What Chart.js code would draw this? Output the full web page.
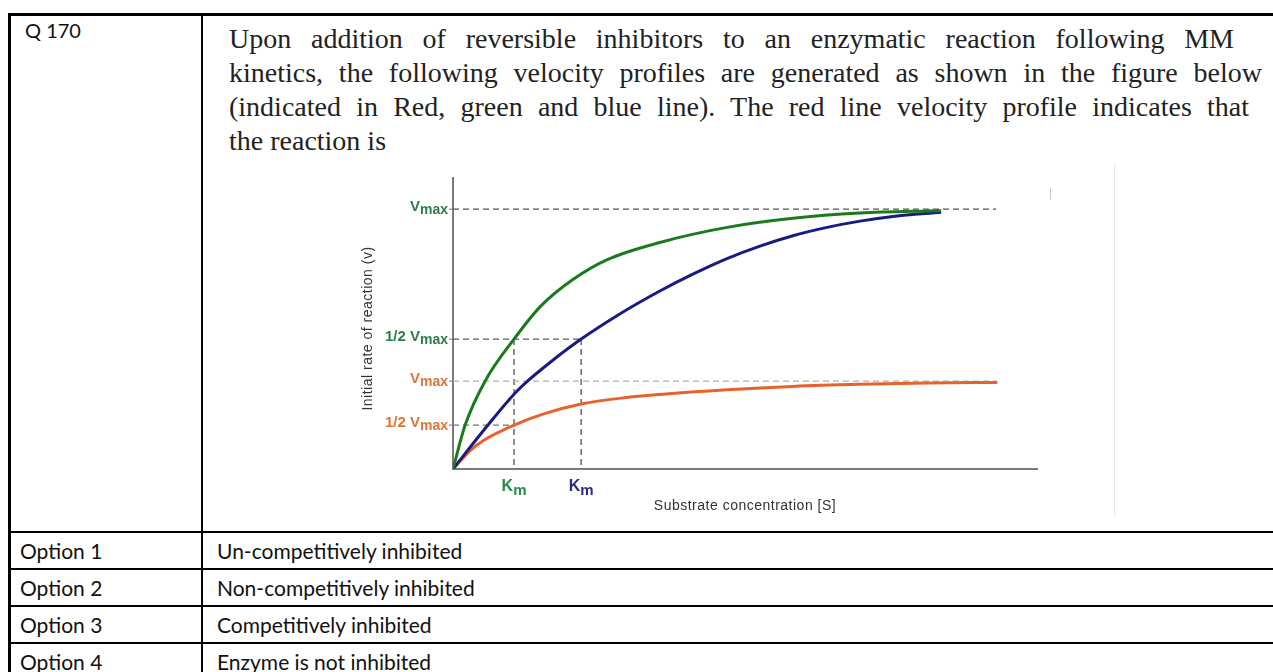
<!DOCTYPE html>
<html lang="en">
<head>
    <meta charset="UTF-8">
    <title>Q 170 - Michaelis-Menten inhibition</title>
    <style>
        body { margin: 0; background: #fff; width: 1273px; height: 672px; overflow: hidden; position: relative; }
        .ln { position: absolute; background: #000; }
        .cal { position: absolute; font-family: Lato, "Open Sans", sans-serif; font-size: 21px; color: #111; white-space: nowrap; line-height: 24px; }
        .q { position: absolute; left: 229px; font-family: "Liberation Serif", "Times New Roman", serif; font-size: 28px; color: #222; white-space: nowrap; line-height: 34px; text-align: justify; text-align-last: justify; }
        #chartBox { position: absolute; left: 330px; top: 160px; }
    </style>
</head>
<body>
    <!-- table borders -->
    <div class="ln" style="left:8px; top:13px; width:1265px; height:3px;"></div>
    <div class="ln" style="left:8px; top:13px; width:3px; height:660px;"></div>
    <div class="ln" style="left:201px; top:13px; width:2px; height:660px;"></div>
    <div class="ln" style="left:8px; top:531px; width:1265px; height:2px;"></div>
    <div class="ln" style="left:8px; top:568px; width:1265px; height:2px;"></div>
    <div class="ln" style="left:8px; top:605px; width:1265px; height:2px;"></div>
    <div class="ln" style="left:8px; top:642px; width:1265px; height:2px;"></div>

    <div class="cal" style="left:25px; top:18px; font-size:20px;">Q 170</div>

    <div class="q" style="top:22px; width:1005px;">Upon addition of reversible inhibitors to an enzymatic reaction following MM</div>
    <div class="q" style="top:56px; width:1033px;">kinetics, the following velocity profiles are generated as shown in the figure below</div>
    <div class="q" style="top:90px; width:1020px;">(indicated in Red, green and blue line). The red line velocity profile indicates that</div>
    <div class="q" style="top:124px; text-align:left; text-align-last:left;">the reaction is</div>

    <!-- faint marks of the pasted figure -->
    <div style="position:absolute; left:1114px; top:165px; width:1px; height:350px; background:#e4e4e4;"></div>
    <div style="position:absolute; left:1050px; top:188px; width:1px; height:12px; background:#c8c8c8;"></div>

    <div id="chartBox"><canvas id="mm" width="740" height="370"></canvas></div>

    <div class="cal" style="left:20px; top:539px;">Option 1</div>
    <div class="cal" style="left:217px; top:539px;">Un-competitively inhibited</div>
    <div class="cal" style="left:20px; top:576px;">Option 2</div>
    <div class="cal" style="left:217px; top:576px;">Non-competitively inhibited</div>
    <div class="cal" style="left:20px; top:613px;">Option 3</div>
    <div class="cal" style="left:217px; top:613px;">Competitively inhibited</div>
    <div class="cal" style="left:20px; top:650px;">Option 4</div>
    <div class="cal" style="left:217px; top:650px;">Enzyme is not inhibited</div>

    <script src="https://cdn.jsdelivr.net/npm/chart.js"></script>
    <script>
        // substrate concentration [S] (Km of green curve = 1) and initial rate v (green Vmax = 100)
        const sGreen = [0, 0.2, 0.53, 1, 1.43, 1.97, 2.52, 3.39, 4.49, 5.57, 6.67, 7.77, 8.0];
        const vGreen = [0, 17, 34, 50, 62.5, 73, 80.5, 87.2, 93, 96.5, 98.5, 99.3, 99.4];

        const sBlue = [0, 0.5, 1, 1.23, 1.6, 2.1, 2.7, 3.39, 3.93, 4.49, 5.03, 5.57, 6.13, 6.67, 7.21, 8.0];
        const vBlue = [0, 14.8, 28.8, 34, 41.2, 50, 59.2, 68.5, 75, 81, 85.8, 89.8, 93, 95.4, 97.2, 98.8];

        const sRed = [0, 0.3, 0.5, 1, 1.5, 2.1, 2.8, 3.39, 4.49, 5.57, 6.67, 7.77, 8.92];
        const vRed = [0, 7.5, 11, 16.9, 21.3, 25, 27.4, 28.7, 30.5, 31.8, 32.6, 33.1, 33.3];

        // reference levels
        const vmaxGreen = 100, halfGreen = 50;
        const vmaxRed = 33.8, halfRed = 16.9;
        const kmGreen = 1, kmBlue = 2.1;
        const refEnd = 8.9;
        const xMax = 9.57, yMax = 112;

        // tick labels
        const yTickLabels = [
            { v: vmaxGreen, pre: '', color: '#2b7d45' },
            { v: halfGreen, pre: '1/2 ', color: '#2b7d45' },
            { v: vmaxRed, pre: '', color: '#e07432' },
            { v: halfRed, pre: '1/2 ', color: '#e07432' }
        ];
        const xTickLabels = [
            { s: kmGreen, color: '#2b8a45' },
            { s: kmBlue, color: '#2a2a80' }
        ];

        const pts = (xs, ys) => xs.map((x, i) => ({ x: x, y: ys[i] }));

        function curve(xs, ys, color) {
            return {
                data: pts(xs, ys), borderColor: color, borderWidth: 3,
                pointRadius: 0, cubicInterpolationMode: 'monotone', fill: false, order: 0
            };
        }
        function dashed(xs, ys, color) {
            return {
                data: pts(xs, ys), borderColor: color, borderWidth: 1.3, borderDash: [6, 4],
                pointRadius: 0, tension: 0, fill: false, order: 1
            };
        }

        const labelPlugin = {
            id: 'mmLabels',
            afterDraw(chart) {
                const ctx = chart.ctx;
                const xs = chart.scales.x, ys = chart.scales.y;
                ctx.save();
                ctx.textBaseline = 'alphabetic';
                // y tick labels with subscript
                yTickLabels.forEach(t => {
                    const py = ys.getPixelForValue(t.v);
                    const right = xs.left - 5;
                    ctx.font = 'bold 14px "Liberation Sans", Arial, sans-serif';
                    const wSub = ctx.measureText('max').width;
                    ctx.font = 'bold 15px "Liberation Sans", Arial, sans-serif';
                    const wMain = ctx.measureText(t.pre + 'V').width;
                    ctx.fillStyle = t.color;
                    ctx.fillText(t.pre + 'V', right - wSub - wMain, py + 2);
                    ctx.font = 'bold 14px "Liberation Sans", Arial, sans-serif';
                    ctx.fillText('max', right - wSub, py + 5);
                    ctx.strokeStyle = '#777';
                    ctx.lineWidth = 1;
                    ctx.beginPath();
                    ctx.moveTo(right + 1, py);
                    ctx.lineTo(xs.left, py);
                    ctx.stroke();
                });
                // x tick labels (Km)
                xTickLabels.forEach(t => {
                    const px = xs.getPixelForValue(t.s);
                    ctx.font = 'bold 16px "Liberation Sans", Arial, sans-serif';
                    const wK = ctx.measureText('K').width;
                    ctx.font = 'bold 15px "Liberation Sans", Arial, sans-serif';
                    const wM = ctx.measureText('m').width;
                    const left = px - (wK + wM) / 2;
                    ctx.fillStyle = t.color;
                    ctx.font = 'bold 16px "Liberation Sans", Arial, sans-serif';
                    ctx.fillText('K', left, ys.bottom + 22);
                    ctx.font = 'bold 15px "Liberation Sans", Arial, sans-serif';
                    ctx.fillText('m', left + wK, ys.bottom + 26);
                });
                // axis titles
                ctx.fillStyle = '#333';
                ctx.font = '14px "Liberation Sans", Arial, sans-serif';
                ctx.letterSpacing = '0.5px';
                ctx.textAlign = 'center';
                ctx.textBaseline = 'middle';
                ctx.fillText('Substrate concentration [S]', (xs.left + xs.right) / 2, ys.bottom + 37);
                ctx.translate(xs.left - 85, (ys.top + ys.bottom) / 2 + 5);
                ctx.rotate(-Math.PI / 2);
                ctx.fillText('Initial rate of reaction (v)', 0, 0);
                ctx.restore();
            }
        };

        new Chart(document.getElementById('mm'), {
            type: 'line',
            data: {
                datasets: [
                    curve(sGreen, vGreen, '#1b7a1e'),
                    curve(sBlue, vBlue, '#1a1a86'),
                    curve(sRed, vRed, '#e8622c'),
                    dashed([0, refEnd], [vmaxGreen, vmaxGreen], '#555'),
                    dashed([0, kmBlue], [halfGreen, halfGreen], '#5a5a6a'),
                    dashed([0, refEnd], [vmaxRed, vmaxRed], '#b0b0b0'),
                    dashed([0, kmGreen], [halfRed, halfRed], '#777'),
                    dashed([kmGreen, kmGreen], [halfGreen, 0], '#555'),
                    dashed([kmBlue, kmBlue], [halfGreen, 0], '#4c4c78')
                ]
            },
            options: {
                responsive: false,
                animation: false,
                devicePixelRatio: 1,
                layout: { padding: { left: 123, right: 33, top: 18, bottom: 61 } },
                plugins: { legend: { display: false }, tooltip: { enabled: false } },
                scales: {
                    x: {
                        type: 'linear', min: 0, max: xMax,
                        grid: { display: false, drawTicks: false },
                        ticks: { display: false },
                        border: { display: true, color: '#7a7a7a', width: 2 }
                    },
                    y: {
                        type: 'linear', min: 0, max: yMax,
                        grid: { display: false, drawTicks: false },
                        ticks: { display: false },
                        border: { display: true, color: '#7a7a7a', width: 2 }
                    }
                }
            },
            plugins: [labelPlugin]
        });
    </script>
</body>
</html>
